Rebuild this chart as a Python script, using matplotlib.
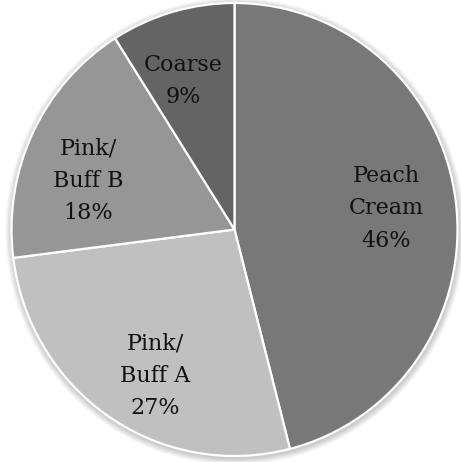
import matplotlib
matplotlib.use("Agg")
import matplotlib.pyplot as plt
from matplotlib.patches import Ellipse

categories = ["Peach\nCream", "Pink/\nBuff A", "Pink/\nBuff B", "Coarse"]
values = [46, 27, 18, 9]
colors = ["#787878", "#c0c0c0", "#969696", "#646464"]
# label nudges in pixels (right, down)
nudges = [(-5, -1), (10, 13), (-3, 20), (-7, 6)]

W, H = 461, 462
fig = plt.figure(figsize=(W / 100, H / 100), dpi=100)
ax = fig.add_axes([0, 0, 1, 1])

cx, cy = 234.5, 229.5
rx, ry = 223.0, 226.5

# soft shadow halo
for k in range(6):
    r = 1.0 + 0.005 * (k + 1)
    ax.add_patch(Ellipse((0.003, -0.008), 2 * r, 2 * r, facecolor="#000000",
                         edgecolor="none", alpha=0.035, zorder=0))

labels = [f"{c}\n{v}%" for c, v in zip(categories, values)]
wedges, texts = ax.pie(
    values, colors=colors, startangle=90, counterclock=False,
    labels=labels, labeldistance=0.71,
    wedgeprops=dict(edgecolor="white", linewidth=1.6, zorder=2),
    textprops=dict(family="DejaVu Serif", fontsize=16, color="#111111",
                   ha="center", va="center", linespacing=1.6, zorder=3),
)
for t, (dx, dy) in zip(texts, nudges):
    x, y = t.get_position()
    t.set_position((x + dx / rx, y - dy / ry))

ax.set_aspect("auto")
ax.set_xlim(-cx / rx, (W - cx) / rx)
ax.set_ylim(-(H - cy) / ry, cy / ry)
ax.axis("off")
fig.savefig("out.png", dpi=100)
